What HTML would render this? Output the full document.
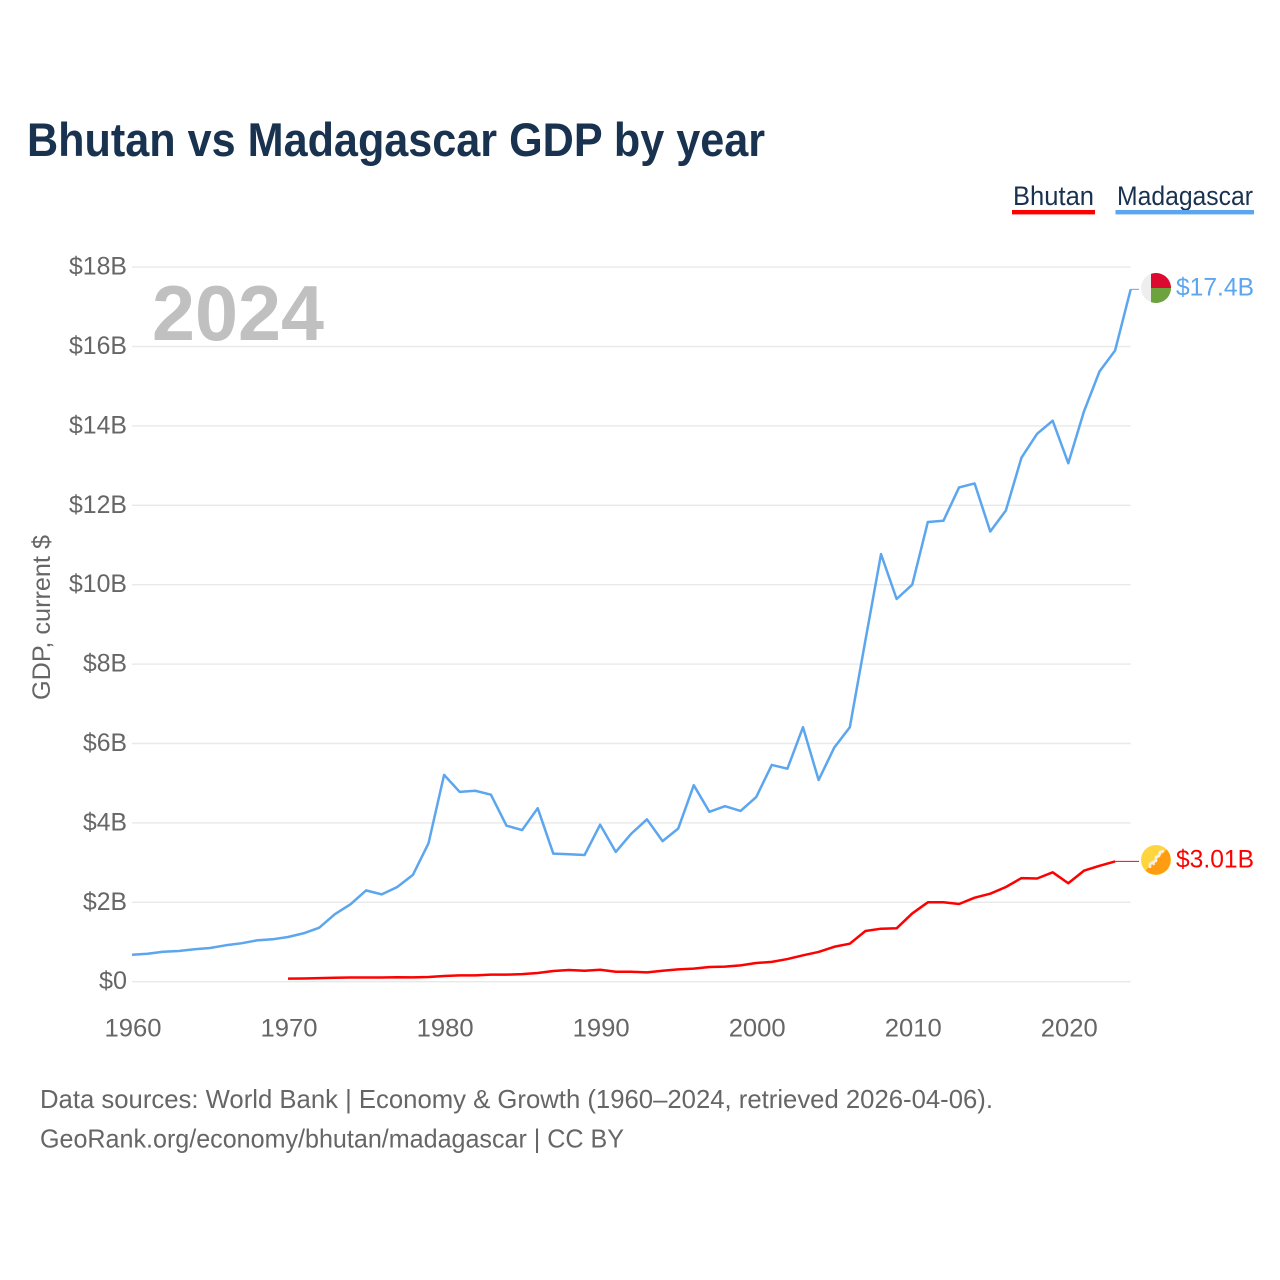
<!DOCTYPE html>
<html lang="en">
<head>
<meta charset="utf-8">
<title>Bhutan vs Madagascar GDP by year</title>
<style>
html,body{margin:0;padding:0;background:#fff;width:1280px;height:1280px;overflow:hidden}
svg{display:block}
text{font-family:"Liberation Sans",sans-serif}
</style>
</head>
<body>
<svg id="chart" xmlns="http://www.w3.org/2000/svg" width="1280" height="1280" viewBox="0 0 1280 1280">
  <rect x="0" y="0" width="1280" height="1280" fill="#ffffff"/>
  <text x="27" y="156" font-size="47" font-weight="700" fill="#18324f" textLength="738" lengthAdjust="spacingAndGlyphs">Bhutan vs Madagascar GDP by year</text>

  <text x="1013" y="205" font-size="27" fill="#18324f" textLength="81" lengthAdjust="spacingAndGlyphs">Bhutan</text>
  <rect x="1012" y="210" width="83" height="4.4" fill="#ff0000"/>
  <text x="1117" y="205" font-size="27" fill="#18324f" textLength="136" lengthAdjust="spacingAndGlyphs">Madagascar</text>
  <rect x="1115.5" y="210" width="138.5" height="4.4" fill="#5ba6ee"/>

  <text transform="translate(50,700) rotate(-90)" x="0" y="0" font-size="25" fill="#666666" textLength="165" lengthAdjust="spacingAndGlyphs">GDP, current $</text>

  <g id="grid"></g>
  <g id="yticks"></g>
  <g id="xticks"></g>

  <text x="152" y="340" font-size="78" font-weight="700" fill="#c0c0c0" textLength="172" lengthAdjust="spacingAndGlyphs">2024</text>

  <g id="series"></g>

  <g transform="translate(1156,288)">
    <circle r="15" fill="#eeeeee"/>
    <path d="M-5,0V-14.1A15,15 0 0 1 15,0Z" fill="#dc0a2f"/>
    <path d="M-5,0V14.1A15,15 0 0 0 15,0Z" fill="#6ca33f"/>
  </g>
  <g transform="translate(1156,860)">
    <circle r="15" fill="#ffd53f"/>
    <path d="M10.6,-10.6A15,15 0 0 1 -10.6,10.6Z" fill="#ff9c12"/>
    <path d="M-6,8L-6,4L-3,2L-2,5M-3,2L0,1L0,-3L3,-4L4,-8L8,-9" fill="none" stroke="#f4f0e4" stroke-width="2.6" stroke-linejoin="round"/>
  </g>

  <text x="40" y="1108" font-size="26" fill="#666666" textLength="953" lengthAdjust="spacingAndGlyphs">Data sources: World Bank | Economy &amp; Growth (1960–2024, retrieved 2026-04-06).</text>
  <text x="40" y="1147.5" font-size="26" fill="#666666" textLength="584" lengthAdjust="spacingAndGlyphs">GeoRank.org/economy/bhutan/madagascar | CC BY</text>
</svg>
<script>
const yearTicks = [1960, 1970, 1980, 1990, 2000, 2010, 2020];
const yTickValues = [0, 2, 4, 6, 8, 10, 12, 14, 16, 18];
const madagascarStartYear = 1960;
const bhutanStartYear = 1970;
const madagascarValues = [0.68,0.705,0.755,0.773,0.816,0.85,0.917,0.967,1.04,1.068,1.126,1.22,1.36,1.70,1.95,2.30,2.20,2.385,2.69,3.485,5.21,4.78,4.81,4.71,3.93,3.82,4.37,3.225,3.21,3.19,3.955,3.27,3.73,4.09,3.54,3.855,4.95,4.28,4.42,4.30,4.65,5.46,5.365,6.41,5.08,5.895,6.41,8.6,10.77,9.64,10.0,11.58,11.61,12.45,12.55,11.34,11.87,13.2,13.8,14.13,13.06,14.36,15.37,15.9,17.44];
const bhutanValues = [0.076,0.08,0.09,0.098,0.107,0.105,0.105,0.113,0.11,0.118,0.144,0.16,0.16,0.178,0.178,0.19,0.22,0.27,0.295,0.277,0.30,0.25,0.25,0.235,0.277,0.31,0.33,0.37,0.38,0.41,0.47,0.50,0.57,0.665,0.75,0.88,0.957,1.277,1.335,1.345,1.72,2.0,2.0,1.957,2.116,2.217,2.385,2.61,2.60,2.755,2.48,2.795,2.92,3.03];
const madagascarLabel = "$17.4B";
const bhutanLabel = "$3.01B";

const NS = "http://www.w3.org/2000/svg";
const xScale = (year) => 132 + (year - 1960) * (1130.7 - 132) / 64;
const yScale = (value) => 981.7 - value * 39.7;
const yLabelWidth = (label) => label.length === 2 ? 28 : (label.length === 3 ? 44 : 58);

const gridGroup = document.getElementById("grid");
const yGroup = document.getElementById("yticks");
const xGroup = document.getElementById("xticks");
const seriesGroup = document.getElementById("series");

yTickValues.forEach((v) => {
  const line = document.createElementNS(NS, "line");
  
  
  line.setAttribute("x1", 132);
  line.setAttribute("x2", 1130.7);
  line.setAttribute("y1", yScale(v));
  line.setAttribute("y2", yScale(v));
  line.setAttribute("stroke", "#e9e9e9");
  line.setAttribute("stroke-width", "1.4");
  gridGroup.appendChild(line);

  const label = v === 0 ? "$0" : "$" + v + "B";
  const t = document.createElementNS(NS, "text");
  
  
  t.setAttribute("x", 127 - yLabelWidth(label));
  t.setAttribute("y", yScale(v) + 7.5);
  t.setAttribute("font-size", "25");
  t.setAttribute("fill", "#666666");
  t.setAttribute("textLength", yLabelWidth(label));
  t.setAttribute("lengthAdjust", "spacingAndGlyphs");
  t.textContent = label;
  yGroup.appendChild(t);
});

yearTicks.forEach((yr) => {
  const t = document.createElementNS(NS, "text");
  
  
  t.setAttribute("x", xScale(yr) - 27.5);
  t.setAttribute("y", 1036.5);
  t.setAttribute("font-size", "25");
  t.setAttribute("fill", "#666666");
  t.setAttribute("textLength", "57");
  t.setAttribute("lengthAdjust", "spacingAndGlyphs");
  t.textContent = String(yr);
  xGroup.appendChild(t);
});

function pointsFor(values, startYear) {
  return values.map((v, i) => xScale(startYear + i).toFixed(2) + "," + yScale(v).toFixed(2)).join(" ");
}

const madagascarLine = document.createElementNS(NS, "polyline");


madagascarLine.setAttribute("points", pointsFor(madagascarValues, madagascarStartYear));
madagascarLine.setAttribute("fill", "none");
madagascarLine.setAttribute("stroke", "#5ba6ee");
madagascarLine.setAttribute("stroke-width", "2.5");
madagascarLine.setAttribute("stroke-linejoin", "round");
seriesGroup.appendChild(madagascarLine);

const bhutanLine = document.createElementNS(NS, "polyline");


bhutanLine.setAttribute("points", pointsFor(bhutanValues, bhutanStartYear));
bhutanLine.setAttribute("fill", "none");
bhutanLine.setAttribute("stroke", "#ff0000");
bhutanLine.setAttribute("stroke-width", "2.5");
bhutanLine.setAttribute("stroke-linejoin", "round");
seriesGroup.appendChild(bhutanLine);

const madagascarEndX = xScale(madagascarStartYear + madagascarValues.length - 1);
const madagascarEndY = yScale(madagascarValues[madagascarValues.length - 1]);
const bhutanEndX = xScale(bhutanStartYear + bhutanValues.length - 1);
const bhutanEndY = yScale(bhutanValues[bhutanValues.length - 1]);

const madagascarConnector = document.createElementNS(NS, "line");


madagascarConnector.setAttribute("x1", madagascarEndX);
madagascarConnector.setAttribute("y1", madagascarEndY);
madagascarConnector.setAttribute("x2", 1139);
madagascarConnector.setAttribute("y2", madagascarEndY);
madagascarConnector.setAttribute("stroke", "#5ba6ee");
madagascarConnector.setAttribute("stroke-width", "1");
seriesGroup.appendChild(madagascarConnector);

const bhutanConnector = document.createElementNS(NS, "line");


bhutanConnector.setAttribute("x1", bhutanEndX);
bhutanConnector.setAttribute("y1", bhutanEndY);
bhutanConnector.setAttribute("x2", 1139);
bhutanConnector.setAttribute("y2", bhutanEndY);
bhutanConnector.setAttribute("stroke", "#ff0000");
bhutanConnector.setAttribute("stroke-width", "1");
seriesGroup.appendChild(bhutanConnector);

const madagascarValueText = document.createElementNS(NS, "text");


madagascarValueText.setAttribute("x", 1176);
madagascarValueText.setAttribute("y", madagascarEndY + 6);
madagascarValueText.setAttribute("font-size", "25");
madagascarValueText.setAttribute("fill", "#5ba6ee");
madagascarValueText.setAttribute("textLength", "78");
madagascarValueText.setAttribute("lengthAdjust", "spacingAndGlyphs");
madagascarValueText.textContent = madagascarLabel;
seriesGroup.appendChild(madagascarValueText);

const bhutanValueText = document.createElementNS(NS, "text");


bhutanValueText.setAttribute("x", 1176);
bhutanValueText.setAttribute("y", bhutanEndY + 6);
bhutanValueText.setAttribute("font-size", "25");
bhutanValueText.setAttribute("fill", "#ff0000");
bhutanValueText.setAttribute("textLength", "78");
bhutanValueText.setAttribute("lengthAdjust", "spacingAndGlyphs");
bhutanValueText.textContent = bhutanLabel;
seriesGroup.appendChild(bhutanValueText);
</script>
</body>
</html>
